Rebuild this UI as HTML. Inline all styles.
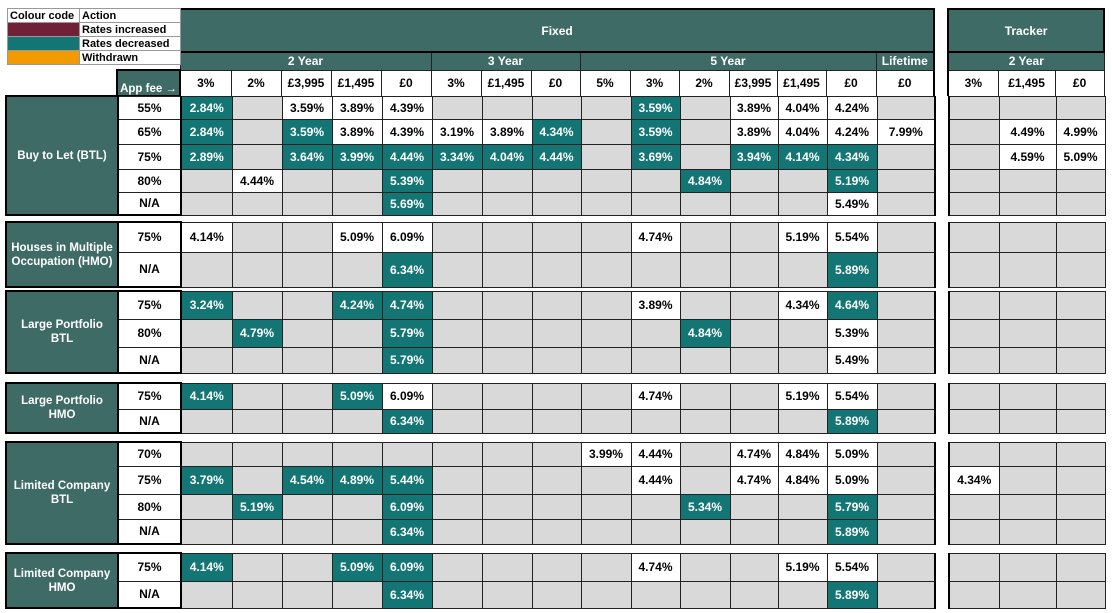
<!DOCTYPE html>
<html><head><meta charset="utf-8"><style>
body{margin:0;background:#fff;width:1112px;height:613px;overflow:hidden;position:relative;font-family:"Liberation Sans",Arial,sans-serif;font-weight:bold;font-size:12px;color:#000}
table{position:absolute;left:5px;border-collapse:collapse;table-layout:fixed;width:1099px}
td{border:1px solid #222;text-align:center;padding:0;background:#d9d9d9;white-space:nowrap;overflow:hidden}
td.w{background:#fff}
td.t{background:#137574;color:#fff}
td.h{background:#3f6b67;color:#fff}
td.l{background:#3f6b67;color:#fff;border:2px solid #000;font-size:11.5px;line-height:14px}
td.f{background:#fff;border-left:2px solid #000;border-right:2px solid #000}
td.g{border:none;background:#fff;border-left:2px solid #000;border-right:2px solid #000}
td.n{border:none;background:#fff}
#lg{position:absolute;left:7px;top:8px;border-collapse:collapse;width:173px;table-layout:fixed}
#lg td{height:13px;font-size:11px;text-align:left;padding-left:2px;background:#fff;border:1px solid #999;line-height:12px}
</style></head><body>
<table style="top:8px">
<colgroup><col style="width:112px"><col style="width:63px"><col style="width:51px"><col style="width:50px"><col style="width:50px"><col style="width:50px"><col style="width:50px"><col style="width:50px"><col style="width:50px"><col style="width:49px"><col style="width:50px"><col style="width:49px"><col style="width:50px"><col style="width:48px"><col style="width:49px"><col style="width:50px"><col style="width:58px"><col style="width:14px"><col style="width:50px"><col style="width:57px"><col style="width:49px"></colgroup>
<tr style="height:43px"><td class="n"></td><td class="n"></td><td class="h" colspan="15" style="border:2px solid #000">Fixed</td><td class="n" style="border-left:2px solid #000;border-right:2px solid #000"></td><td class="h" colspan="3" style="border:2px solid #000">Tracker</td></tr>
<tr style="height:18px"><td class="n"></td><td class="n"></td><td class="h" colspan="5">2 Year</td><td class="h" colspan="3">3 Year</td><td class="h" colspan="6">5 Year</td><td class="h">Lifetime</td><td class="g"></td><td class="h" colspan="3">2 Year</td></tr>
<tr style="height:26px"><td class="n"></td><td class="h" style="vertical-align:bottom;font-size:11.5px;border:2px solid #000">App fee →</td><td class="w">3%</td><td class="w">2%</td><td class="w">£3,995</td><td class="w">£1,495</td><td class="w">£0</td><td class="w">3%</td><td class="w">£1,495</td><td class="w">£0</td><td class="w">5%</td><td class="w">3%</td><td class="w">2%</td><td class="w">£3,995</td><td class="w">£1,495</td><td class="w">£0</td><td class="w">£0</td><td class="g"></td><td class="w">3%</td><td class="w">£1,495</td><td class="w">£0</td></tr>
</table>
<table id="lg"><colgroup><col style="width:72px"><col style="width:101px"></colgroup>
<tr><td>Colour code</td><td>Action</td></tr>
<tr><td style="background:#722038"></td><td>Rates increased</td></tr>
<tr><td style="background:#137574"></td><td>Rates decreased</td></tr>
<tr><td style="background:#f29b00"></td><td>Withdrawn</td></tr>
</table>

<table style="top:95px">
<colgroup><col style="width:112px"><col style="width:63px"><col style="width:51px"><col style="width:50px"><col style="width:50px"><col style="width:50px"><col style="width:50px"><col style="width:50px"><col style="width:50px"><col style="width:49px"><col style="width:50px"><col style="width:49px"><col style="width:50px"><col style="width:48px"><col style="width:49px"><col style="width:50px"><col style="width:58px"><col style="width:14px"><col style="width:50px"><col style="width:57px"><col style="width:49px"></colgroup>
<tr style="height:23px"><td class="l" rowspan="5">Buy to Let (BTL)</td><td class="f">55%</td><td class="t">2.84%</td><td></td><td class="w">3.59%</td><td class="w">3.89%</td><td class="w">4.39%</td><td></td><td></td><td></td><td></td><td class="t">3.59%</td><td></td><td class="w">3.89%</td><td class="w">4.04%</td><td class="w">4.24%</td><td></td><td class="g"></td><td></td><td></td><td></td></tr>
<tr style="height:25px"><td class="f">65%</td><td class="t">2.84%</td><td></td><td class="t">3.59%</td><td class="w">3.89%</td><td class="w">4.39%</td><td class="w">3.19%</td><td class="w">3.89%</td><td class="t">4.34%</td><td></td><td class="t">3.59%</td><td></td><td class="w">3.89%</td><td class="w">4.04%</td><td class="w">4.24%</td><td class="w">7.99%</td><td class="g"></td><td></td><td class="w">4.49%</td><td class="w">4.99%</td></tr>
<tr style="height:25px"><td class="f">75%</td><td class="t">2.89%</td><td></td><td class="t">3.64%</td><td class="t">3.99%</td><td class="t">4.44%</td><td class="t">3.34%</td><td class="t">4.04%</td><td class="t">4.44%</td><td></td><td class="t">3.69%</td><td></td><td class="t">3.94%</td><td class="t">4.14%</td><td class="t">4.34%</td><td></td><td class="g"></td><td></td><td class="w">4.59%</td><td class="w">5.09%</td></tr>
<tr style="height:23px"><td class="f">80%</td><td></td><td class="w">4.44%</td><td></td><td></td><td class="t">5.39%</td><td></td><td></td><td></td><td></td><td></td><td class="t">4.84%</td><td></td><td></td><td class="t">5.19%</td><td></td><td class="g"></td><td></td><td></td><td></td></tr>
<tr style="height:23px"><td class="f" style="border-bottom:2px solid #000">N/A</td><td></td><td></td><td></td><td></td><td class="t">5.69%</td><td></td><td></td><td></td><td></td><td></td><td></td><td></td><td></td><td class="w">5.49%</td><td></td><td class="g"></td><td></td><td></td><td></td></tr>
</table>

<table style="top:221px">
<colgroup><col style="width:112px"><col style="width:63px"><col style="width:51px"><col style="width:50px"><col style="width:50px"><col style="width:50px"><col style="width:50px"><col style="width:50px"><col style="width:50px"><col style="width:49px"><col style="width:50px"><col style="width:49px"><col style="width:50px"><col style="width:48px"><col style="width:49px"><col style="width:50px"><col style="width:58px"><col style="width:14px"><col style="width:50px"><col style="width:57px"><col style="width:49px"></colgroup>
<tr style="height:30px"><td class="l" rowspan="2">Houses in Multiple<br>Occupation (HMO)</td><td class="f" style="border-top:2px solid #000">75%</td><td class="w">4.14%</td><td></td><td></td><td class="w">5.09%</td><td class="w">6.09%</td><td></td><td></td><td></td><td></td><td class="w">4.74%</td><td></td><td></td><td class="w">5.19%</td><td class="w">5.54%</td><td></td><td class="g"></td><td></td><td></td><td></td></tr>
<tr style="height:35px"><td class="f" style="border-bottom:2px solid #000">N/A</td><td></td><td></td><td></td><td></td><td class="t">6.34%</td><td></td><td></td><td></td><td></td><td></td><td></td><td></td><td></td><td class="t">5.89%</td><td></td><td class="g"></td><td></td><td></td><td></td></tr>
</table>

<table style="top:290px">
<colgroup><col style="width:112px"><col style="width:63px"><col style="width:51px"><col style="width:50px"><col style="width:50px"><col style="width:50px"><col style="width:50px"><col style="width:50px"><col style="width:50px"><col style="width:49px"><col style="width:50px"><col style="width:49px"><col style="width:50px"><col style="width:48px"><col style="width:49px"><col style="width:50px"><col style="width:58px"><col style="width:14px"><col style="width:50px"><col style="width:57px"><col style="width:49px"></colgroup>
<tr style="height:28px"><td class="l" rowspan="3">Large Portfolio<br>BTL</td><td class="f" style="border-top:2px solid #000">75%</td><td class="t">3.24%</td><td></td><td></td><td class="t">4.24%</td><td class="t">4.74%</td><td></td><td></td><td></td><td></td><td class="w">3.89%</td><td></td><td></td><td class="w">4.34%</td><td class="t">4.64%</td><td></td><td class="g"></td><td></td><td></td><td></td></tr>
<tr style="height:28px"><td class="f">80%</td><td></td><td class="t">4.79%</td><td></td><td></td><td class="t">5.79%</td><td></td><td></td><td></td><td></td><td></td><td class="t">4.84%</td><td></td><td></td><td class="w">5.39%</td><td></td><td class="g"></td><td></td><td></td><td></td></tr>
<tr style="height:26px"><td class="f" style="border-bottom:2px solid #000">N/A</td><td></td><td></td><td></td><td></td><td class="t">5.79%</td><td></td><td></td><td></td><td></td><td></td><td></td><td></td><td></td><td class="w">5.49%</td><td></td><td class="g"></td><td></td><td></td><td></td></tr>
</table>

<table style="top:382px">
<colgroup><col style="width:112px"><col style="width:63px"><col style="width:51px"><col style="width:50px"><col style="width:50px"><col style="width:50px"><col style="width:50px"><col style="width:50px"><col style="width:50px"><col style="width:49px"><col style="width:50px"><col style="width:49px"><col style="width:50px"><col style="width:48px"><col style="width:49px"><col style="width:50px"><col style="width:58px"><col style="width:14px"><col style="width:50px"><col style="width:57px"><col style="width:49px"></colgroup>
<tr style="height:26px"><td class="l" rowspan="2">Large Portfolio<br>HMO</td><td class="f" style="border-top:2px solid #000">75%</td><td class="t">4.14%</td><td></td><td></td><td class="t">5.09%</td><td class="w">6.09%</td><td></td><td></td><td></td><td></td><td class="w">4.74%</td><td></td><td></td><td class="w">5.19%</td><td class="w">5.54%</td><td></td><td class="g"></td><td></td><td></td><td></td></tr>
<tr style="height:24px"><td class="f" style="border-bottom:2px solid #000">N/A</td><td></td><td></td><td></td><td></td><td class="t">6.34%</td><td></td><td></td><td></td><td></td><td></td><td></td><td></td><td></td><td class="t">5.89%</td><td></td><td class="g"></td><td></td><td></td><td></td></tr>
</table>

<table style="top:441px">
<colgroup><col style="width:112px"><col style="width:63px"><col style="width:51px"><col style="width:50px"><col style="width:50px"><col style="width:50px"><col style="width:50px"><col style="width:50px"><col style="width:50px"><col style="width:49px"><col style="width:50px"><col style="width:49px"><col style="width:50px"><col style="width:48px"><col style="width:49px"><col style="width:50px"><col style="width:58px"><col style="width:14px"><col style="width:50px"><col style="width:57px"><col style="width:49px"></colgroup>
<tr style="height:24px"><td class="l" rowspan="4">Limited Company<br>BTL</td><td class="f" style="border-top:2px solid #000">70%</td><td></td><td></td><td></td><td></td><td></td><td></td><td></td><td></td><td class="w">3.99%</td><td class="w">4.44%</td><td></td><td class="w">4.74%</td><td class="w">4.84%</td><td class="w">5.09%</td><td></td><td class="g"></td><td></td><td></td><td></td></tr>
<tr style="height:28px"><td class="f">75%</td><td class="t">3.79%</td><td></td><td class="t">4.54%</td><td class="t">4.89%</td><td class="t">5.44%</td><td></td><td></td><td></td><td></td><td class="w">4.44%</td><td></td><td class="w">4.74%</td><td class="w">4.84%</td><td class="w">5.09%</td><td></td><td class="g"></td><td class="w">4.34%</td><td></td><td></td></tr>
<tr style="height:25px"><td class="f">80%</td><td></td><td class="t">5.19%</td><td></td><td></td><td class="t">6.09%</td><td></td><td></td><td></td><td></td><td></td><td class="t">5.34%</td><td></td><td></td><td class="t">5.79%</td><td></td><td class="g"></td><td></td><td></td><td></td></tr>
<tr style="height:25px"><td class="f" style="border-bottom:2px solid #000">N/A</td><td></td><td></td><td></td><td></td><td class="t">6.34%</td><td></td><td></td><td></td><td></td><td></td><td></td><td></td><td></td><td class="t">5.89%</td><td></td><td class="g"></td><td></td><td></td><td></td></tr>
</table>

<table style="top:552px">
<colgroup><col style="width:112px"><col style="width:63px"><col style="width:51px"><col style="width:50px"><col style="width:50px"><col style="width:50px"><col style="width:50px"><col style="width:50px"><col style="width:50px"><col style="width:49px"><col style="width:50px"><col style="width:49px"><col style="width:50px"><col style="width:48px"><col style="width:49px"><col style="width:50px"><col style="width:58px"><col style="width:14px"><col style="width:50px"><col style="width:57px"><col style="width:49px"></colgroup>
<tr style="height:28px"><td class="l" rowspan="2">Limited Company<br>HMO</td><td class="f" style="border-top:2px solid #000">75%</td><td class="t">4.14%</td><td></td><td></td><td class="t">5.09%</td><td class="t">6.09%</td><td></td><td></td><td></td><td></td><td class="w">4.74%</td><td></td><td></td><td class="w">5.19%</td><td class="w">5.54%</td><td></td><td class="g"></td><td></td><td></td><td></td></tr>
<tr style="height:27px"><td class="f" style="border-bottom:2px solid #000">N/A</td><td></td><td></td><td></td><td></td><td class="t">6.34%</td><td></td><td></td><td></td><td></td><td></td><td></td><td></td><td></td><td class="t">5.89%</td><td></td><td class="g"></td><td></td><td></td><td></td></tr>
</table>
</body></html>
